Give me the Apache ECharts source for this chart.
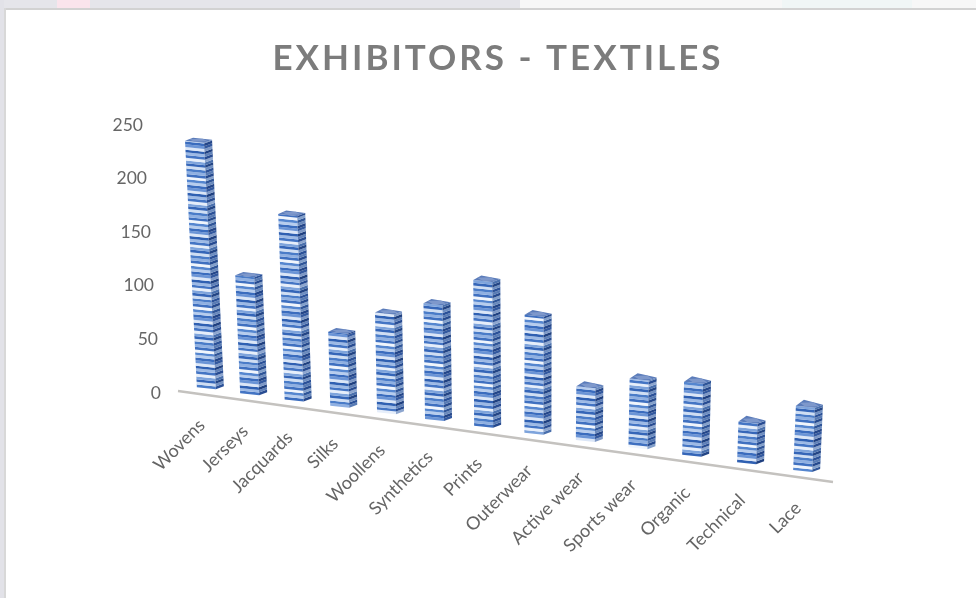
<!DOCTYPE html>
<html>
<head>
<meta charset="utf-8">
<style>html,body{margin:0;padding:0;background:#fff}#c{width:976px;height:598px}</style>
<script src="https://cdn.jsdelivr.net/npm/echarts@6/dist/echarts.min.js"></script>
</head>
<body>
<div id="c"></div>
<script>
// Exhibitor counts per textile category
const categories = ['Wovens','Jerseys','Jacquards','Silks','Woollens','Synthetics','Prints','Outerwear','Active wear','Sports wear','Organic','Technical','Lace'];
const exhibitors = [230,110,173,69,93,108,136,110,50,64,68,38,60];
const valueTicks = [0,50,100,150,200,250];
const titleText = 'EXHIBITORS - TEXTILES';

// Repeating texture bands of the bars
const frontBands = ['#4a7cc8','#cfdef3','#3566b8','#7ea4dc','#e6eefa','#4475c4','#9dbae6','#2f60b2','#dbe6f7','#6a94d6','#3a6cbe','#b7cdee','#5586cf','#f0f5fc','#3f70c0','#8fb0e2'];
const sideBands  = ['#2b5198','#6f8fc2','#234585','#4a70ad','#8da6cf','#284c92','#5f80b8','#1f4080','#7d98c6','#33599f','#244689','#6a8abd','#2f5598','#83a0cb','#264a8e','#587bb4'];

// Oblique floor: the category axis runs downhill and the uprights lean towards a vanishing point
const FLOOR = { x0: 178, y0: 391, x1: 833, y1: 482 };
const floorY = x => FLOOR.y0 + (x - FLOOR.x0) * (FLOOR.y1 - FLOOR.y0) / (FLOOR.x1 - FLOOR.x0);
const leanAt = x => (526 - x) * 0.000152;
const SPREAD = 83.5;            // widening of the category spacing towards the viewer
const ZERO_Y = 393;             // pixel row of value 0 on the y axis
const BAND = 2.7;               // thickness of one texture band

function perspectiveX(api, i) {
  const a = api.coord([0, 0])[0], b = api.coord([categories.length - 1, 0])[0];
  const px = api.coord([i, 0])[0];
  const t = (px - a) / (b - a);
  return px - SPREAD * t * (1 - t);
}

function face(points, fill) {
  return { type: 'polygon', silent: true, shape: { points }, style: { fill, stroke: null } };
}

function renderBar(params, api) {
  const i = api.value(0);
  const X = perspectiveX(api, i);
  const corner = X + 5, left = X - 14, right = X + 13;
  const base = floorY(corner) - 7;
  const height = ZERO_Y - api.coord([i, api.value(1)])[1];
  const lean = leanAt(X);
  const capRise = 5 + 3 * i / 12;
  const at = (x, dy, h) => [x - lean * h, base + dy - h];
  const children = [];
  const n = Math.ceil(height / BAND);
  for (let k = 0; k < n; k++) {
    const h0 = k * BAND, h1 = Math.min(height, (k + 1) * BAND);
    const f = frontBands[(k + i * 5) % frontBands.length];
    const s = sideBands[(k + i * 5) % sideBands.length];
    children.push(face([at(left, -2, h0), at(corner, 0, h0), at(corner, 0, h1), at(left, -2, h1)], f));
    children.push(face([at(corner, 0, h0), at(right, -3, h0), at(right, -3, h1), at(corner, 0, h1)], s));
  }
  const tl = at(left, -2, height), tc = at(corner, 0, height), tr = at(right, -3, height);
  const back = [tl[0] + tr[0] - tc[0], tc[1] - capRise];
  children.push(face([tl, tc, tr, back], '#5b7cba'));
  children.push(face([[(tl[0] + back[0]) / 2, (tl[1] + back[1]) / 2], [(tc[0] + tl[0]) / 2, (tc[1] + tl[1]) / 2],
                      [(tc[0] + tr[0]) / 2, (tc[1] + tr[1]) / 2], [(back[0] + tr[0]) / 2, (back[1] + tr[1]) / 2]], '#7e98cb'));
  return { type: 'group', children };
}

function renderCategoryLabel(params, api) {
  const i = api.value(0);
  const X = perspectiveX(api, i) - 9;
  return {
    type: 'text', silent: true,
    x: X, y: floorY(X) + 28,
    rotation: 45 * Math.PI / 180,
    style: { text: categories[i], align: 'right', verticalAlign: 'middle', fill: '#656565', font: '18px Lato' }
  };
}

function renderFloorLine() {
  return {
    type: 'line', silent: true,
    shape: { x1: FLOOR.x0, y1: FLOOR.y0, x2: FLOOR.x1, y2: FLOOR.y1 },
    style: { stroke: '#c4c2bf', lineWidth: 2.4 }
  };
}

// Right padding per tick slides the y labels along the leaning upright
const tickShift = { 0: 0, 50: 3, 100: 7, 150: 10, 200: 14, 250: 18 };
const tickRich = {};
valueTicks.forEach(v => {
  tickRich['t' + v] = { padding: [0, tickShift[v], 0, 0], color: '#666666', fontSize: 17.5, fontFamily: 'Lato' };
});

const rows = categories.map((c, i) => [i, exhibitors[i]]);

const chart = echarts.init(document.getElementById('c'), null, { renderer: 'canvas' });
chart.setOption({
  animation: false,
  backgroundColor: '#ffffff',
  title: {
    text: titleText, left: 493, top: 36, textAlign: 'center', zlevel: 1,
    textStyle: { color: '#7c7c7c', fontFamily: 'Lato', fontWeight: 'bold', fontSize: 35 }
  },
  grid: { left: 186, top: 125, width: 646, height: 268 },
  xAxis: {
    type: 'category', data: categories,
    axisLine: { show: false }, axisTick: { show: false }, axisLabel: { show: false }, splitLine: { show: false }
  },
  yAxis: {
    type: 'value', min: 0, max: 250, interval: 50,
    axisLine: { show: false }, axisTick: { show: false }, splitLine: { show: false },
    axisLabel: { margin: 25, formatter: v => '{t' + v + '|' + v + '}', rich: tickRich }
  },
  graphic: [
    { type: 'rect', silent: true, z: -10, shape: { x: 0, y: 0, width: 976, height: 8 }, style: { fill: '#e5e5ea' } },
    { type: 'rect', silent: true, z: -9, shape: { x: 57, y: 0, width: 33, height: 8 }, style: { fill: '#fae4ec' } },
    { type: 'rect', silent: true, z: -9, shape: { x: 520, y: 0, width: 456, height: 8 }, style: { fill: '#f7f7f7' } },
    { type: 'rect', silent: true, z: -8, shape: { x: 782, y: 0, width: 130, height: 8 }, style: { fill: '#f0f6f6' } },
    { type: 'rect', silent: true, z: -10, shape: { x: 0, y: 0, width: 4, height: 598 }, style: { fill: '#e2e2e8' } },
    { type: 'rect', silent: true, z: -7, shape: { x: 4, y: 8, width: 972, height: 2 }, style: { fill: '#d2d2d2' } },
    { type: 'rect', silent: true, z: -7, shape: { x: 4, y: 8, width: 2, height: 590 }, style: { fill: '#d8d8d8' } }
  ],
  series: [
    { type: 'custom', name: 'Floor', data: [[0]], renderItem: renderFloorLine, encode: { x: 0 }, clip: false, silent: true, z: 1 },
    { type: 'custom', name: 'Exhibitors', data: rows, renderItem: renderBar, encode: { x: 0, y: 1 }, clip: false, silent: true, z: 2 },
    { type: 'custom', name: 'Categories', data: rows, renderItem: renderCategoryLabel, encode: { x: 0 }, clip: false, silent: true, z: 3 }
  ]
});

// The chart title is set with open tracking on its own canvas layer
const zr = chart.getZr();
const titleLayer = zr.painter.getLayer(1);
titleLayer.ctx.letterSpacing = '3px';
titleLayer.__dirty = true;
zr.painter.refresh(true);
</script>
</body>
</html>
